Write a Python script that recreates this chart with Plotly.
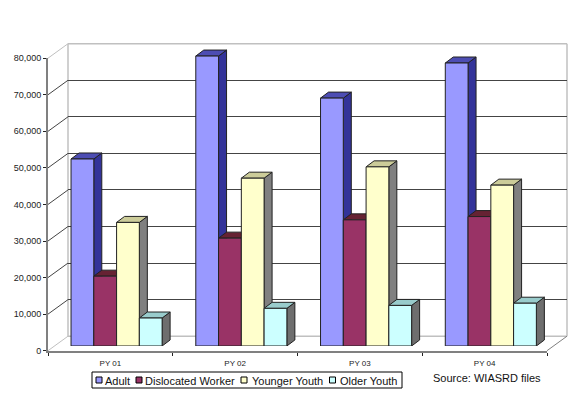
import plotly.graph_objects as go

groups = ["PY 01", "PY 02", "PY 03", "PY 04"]
series = ["Adult", "Dislocated Worker", "Younger Youth", "Older Youth"]
adult = [51150, 79300, 67800, 77400]
dislocated = [19100, 29500, 34500, 35400]
younger = [33800, 45900, 49000, 44000]
older = [7650, 10300, 11100, 11700]
values = [adult, dislocated, younger, older]
ytickvals = [0, 10000, 20000, 30000, 40000, 50000, 60000, 70000, 80000]

front = ["#9999FF", "#993366", "#FFFFCC", "#CCFFFF"]
side = ["#333399", "#4D1A33", "#808080", "#6E6E6E"]
top = ["#4D4DB3", "#662233", "#CCCC99", "#99CCCC"]

W, H = 580, 395
def xd(a, b): return [a / W, b / W]
def yd(bottom, topp): return [1 - bottom / H, 1 - topp / H]
def px(x): return x / W
def py(y): return 1 - y / H

Y0_FRONT, Y80_FRONT = 350.7, 58.2
Y0_BACK, Y80_BACK = 336.2, 43.7
PX_PER_UNIT = (Y0_FRONT - Y80_FRONT) / 80000
PLANE_L, PLANE_R, PLANE_B = 54.2, 553.2, 346.0
YMAX_PLANE = 90000
GROUP = 0.73
BW = GROUP / 4
DX = 8 / ((PLANE_R - PLANE_L) / 4)
DY = 6 / PX_PER_UNIT

fig = go.Figure()

# back wall grid
fig.add_trace(go.Scatter(x=[0, 1], y=[0, 80000], mode="none", xaxis="x", yaxis="y",
                         showlegend=False, hoverinfo="skip"))
# front axes
fig.add_trace(go.Scatter(x=groups, y=[0, 0, 0, 0], mode="none", xaxis="x2", yaxis="y2",
                         showlegend=False, hoverinfo="skip"))

# side and top faces
for k, vals in enumerate(values):
    for i, v in enumerate(vals):
        l = i - GROUP / 2 + k * BW
        r = l + BW
        fig.add_trace(go.Scatter(
            x=[r, r + DX, r + DX, r, r], y=[0, DY, v + DY, v, 0], mode="lines", fill="toself",
            fillcolor=side[k], line=dict(color="#222222", width=1), xaxis="x3", yaxis="y3",
            showlegend=False, hoverinfo="skip"))
        fig.add_trace(go.Scatter(
            x=[l, l + DX, r + DX, r, l], y=[v, v + DY, v + DY, v, v], mode="lines", fill="toself",
            fillcolor=top[k], line=dict(color="#222222", width=1), xaxis="x3", yaxis="y3",
            showlegend=False, hoverinfo="skip"))

# front faces
for k, vals in enumerate(values):
    fig.add_trace(go.Bar(x=list(range(len(groups))), y=vals, name=series[k], xaxis="x4", yaxis="y4",
                         marker=dict(color=front[k], line=dict(color="#222222", width=1)),
                         showlegend=False))

shapes = []
def line(x0, y0, x1, y1, color, width=1):
    shapes.append(dict(type="line", xref="paper", yref="paper", x0=px(x0), y0=py(y0), x1=px(x1), y1=py(y1),
                       line=dict(color=color, width=width), layer="below"))

# walls and floor
line(68, Y80_BACK, 567, Y80_BACK, "#C0C0C0", 1.5)
line(68, Y80_BACK, 68, Y0_BACK, "#C0C0C0", 1.5)
line(567, Y80_BACK, 567, Y0_BACK, "#C0C0C0", 1.5)
line(68, Y0_BACK, 567, Y0_BACK, "#C0C0C0", 1.5)
line(547, Y0_FRONT, 567, Y0_BACK, "#808080", 1)
for v in ytickvals:
    yf = Y0_FRONT - v * PX_PER_UNIT
    yb = Y0_BACK - v * PX_PER_UNIT
    line(48, yf, 68, yb, "#C0C0C0" if v in (0, 80000) else "#444444", 1)

# legend box
LEG_L, LEG_R, LEG_T, LEG_B = 92, 402, 372, 388
shapes.append(dict(type="rect", xref="paper", yref="paper", x0=px(LEG_L), x1=px(LEG_R), y0=py(LEG_B), y1=py(LEG_T),
                   line=dict(color="#000000", width=1), fillcolor="#FFFFFF", layer="above"))
leg_sw = [96, 136, 241, 329.5]
leg_tx = [102.5, 142.5, 249.5, 337.5]
annotations = []
for k, name in enumerate(series):
    shapes.append(dict(type="rect", xref="paper", yref="paper", x0=px(leg_sw[k]), x1=px(leg_sw[k] + 6),
                       y0=py(383), y1=py(377), line=dict(color="#000000", width=1),
                       fillcolor=front[k], layer="above"))
    annotations.append(dict(text=name, xref="paper", yref="paper", x=px(leg_tx[k]), y=py(380.5), xanchor="left",
                            yanchor="middle", showarrow=False, font=dict(size=11, color="#111111")))
annotations.append(dict(text="Source: WIASRD files", xref="paper", yref="paper", x=px(430.5), y=py(377.5),
                        xanchor="left", yanchor="middle", showarrow=False, font=dict(size=11, color="#111111")))

fig.update_layout(
    width=W, height=H, autosize=False, margin=dict(l=0, r=0, t=0, b=0),
    paper_bgcolor="white", plot_bgcolor="rgba(0,0,0,0)", showlegend=False,
    font=dict(family="Liberation Sans, Arial, sans-serif", color="#222222"),
    barmode="group", bargap=1 - GROUP, bargroupgap=0, shapes=shapes, annotations=annotations,
    xaxis=dict(domain=xd(68, 567), range=[0, 1], visible=False, anchor="y", automargin=False),
    yaxis=dict(domain=yd(Y0_BACK, Y80_BACK), range=[0, 80000], tickvals=ytickvals, showgrid=True,
               gridcolor="#444444", gridwidth=1, showticklabels=False, ticks="", zeroline=False,
               showline=False, anchor="x", automargin=False),
    xaxis2=dict(domain=xd(48, 547), type="category", categoryorder="array", categoryarray=groups,
                tickson="boundaries", ticks="outside", ticklen=3, tickcolor="#222222", showline=True,
                linecolor="#808080", linewidth=2, showgrid=False, zeroline=False, anchor="y2",
                tickfont=dict(size=8), range=[-0.5, 3.5], automargin=False, ticklabelstandoff=4),
    yaxis2=dict(domain=yd(Y0_FRONT, Y80_FRONT), range=[0, 80000], tickvals=ytickvals, tickformat=",d",
                ticks="outside", ticklen=3, tickcolor="#222222", showline=True, linecolor="#808080",
                linewidth=2, showgrid=False, zeroline=False, anchor="x2", tickfont=dict(size=9), automargin=False),
    xaxis3=dict(domain=xd(PLANE_L, PLANE_R), range=[-0.5, 3.5], visible=False, anchor="y3", automargin=False),
    yaxis3=dict(domain=yd(PLANE_B, PLANE_B - YMAX_PLANE * PX_PER_UNIT), range=[0, YMAX_PLANE], visible=False,
                anchor="x3", automargin=False),
    xaxis4=dict(domain=xd(PLANE_L, PLANE_R), range=[-0.5, 3.5], visible=False, anchor="y4", automargin=False),
    yaxis4=dict(domain=yd(PLANE_B, PLANE_B - YMAX_PLANE * PX_PER_UNIT), range=[0, YMAX_PLANE], visible=False,
                anchor="x4", automargin=False),
)

fig.write_html("out.html", post_script="document.body.style.margin='0';", config={"displayModeBar": False})
